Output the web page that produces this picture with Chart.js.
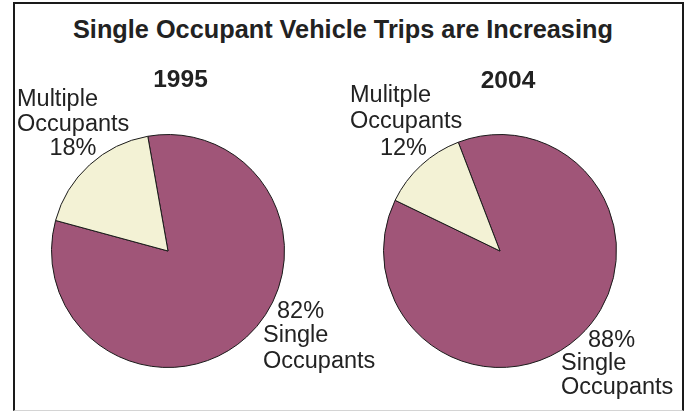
<!DOCTYPE html>
<html>
<head>
<meta charset="utf-8">
<script src="https://cdn.jsdelivr.net/npm/chart.js@4.4.0/dist/chart.umd.min.js"></script>
<style>
body { margin: 0; background: #fff; }
#wrap { position: relative; width: 691px; height: 412px; overflow: hidden; background: #fff; }
#frame { position: absolute; left: 13px; top: 2px; width: 667px; height: 406px;
  border: 2px solid #1a1a1a; border-bottom: 1px solid #d4d4d4; }
#title { position: absolute; left: 0; width: 691px; top: 17px; text-align: left; padding-left: 73px; box-sizing: border-box;
  font: bold 25.3px "Liberation Sans", Arial, sans-serif; line-height: 25.3px; color: #222; white-space: nowrap; }
canvas { position: absolute; top: 0; }
#pie1995 { left: 0; }
#pie2004 { left: 330px; }
</style>
</head>
<body>
<div id="wrap">
  <div id="frame"></div>
  <div id="title">Single Occupant Vehicle Trips are Increasing</div>
  <canvas id="pie1995" width="400" height="412"></canvas>
  <canvas id="pie2004" width="361" height="412"></canvas>
</div>
<script>
// donnees
const years = ['1995', '2004'];
const categories = ['Single Occupants', 'Multiple Occupants'];
const singleShare = [82, 88];
const multipleShare = [18, 12];
const multipleWord = ['Multiple', 'Mulitple']; // faute d'orthographe dans l'original

const purple = '#a05578';
const cream = '#f3f2d5';
const textColor = '#222';
const labelFont = '23.5px "Liberation Sans", Arial, sans-serif';
const yearFont = 'bold 24.5px "Liberation Sans", Arial, sans-serif';

// position des textes, en coordonnees de la page
const textSpots = [
  { year: [180.5, 87], multi: [17, 106, 131], multiPct: [73, 155], single: [277, 263, 318, 342, 368] },
  { year: [508, 88], multi: [350, 102, 128], multiPct: [403.5, 155], single: [588, 561, 347, 370, 394] }
];

const labelsPlugin = {
  id: 'pieLabels',
  afterDraw(chart) {
    const i = chart.options.plugins.pieLabels.index;
    const dx = chart.options.plugins.pieLabels.offsetX;
    const s = textSpots[i];
    const ctx = chart.ctx;
    ctx.save();
    ctx.fillStyle = textColor;
    ctx.textBaseline = 'alphabetic';

    ctx.font = yearFont;
    ctx.textAlign = 'center';
    ctx.fillText(years[i], s.year[0] - dx, s.year[1]);

    ctx.font = labelFont;
    ctx.textAlign = 'left';
    ctx.fillText(multipleWord[i], s.multi[0] - dx, s.multi[1]);
    ctx.fillText('Occupants', s.multi[0] - dx, s.multi[2]);
    ctx.textAlign = 'center';
    ctx.fillText(multipleShare[i] + '%', s.multiPct[0] - dx, s.multiPct[1]);

    ctx.textAlign = 'left';
    ctx.fillText(singleShare[i] + '%', s.single[0] - dx, s.single[2]);
    ctx.fillText('Single', s.single[1] - dx, s.single[3]);
    ctx.fillText('Occupants', s.single[1] - dx, s.single[4]);
    ctx.restore();
  }
};

function makePie(canvasId, i, offsetX, rotation, padding) {
  return new Chart(document.getElementById(canvasId), {
    type: 'pie',
    data: {
      labels: categories,
      datasets: [{
        data: [singleShare[i], multipleShare[i]],
        backgroundColor: [purple, cream],
        borderColor: '#1a1a1a',
        borderWidth: 1
      }]
    },
    options: {
      responsive: false,
      animation: false,
      devicePixelRatio: 1,
      rotation: rotation,
      layout: { padding: padding },
      events: [],
      plugins: {
        legend: { display: false },
        tooltip: { enabled: false },
        pieLabels: { index: i, offsetX: offsetX }
      }
    },
    plugins: [labelsPlugin]
  });
}

makePie('pie1995', 0, 0, -10, { left: 51, right: 115, top: 134, bottom: 44 });
makePie('pie2004', 1, 330, -21, { left: 53, right: 74, top: 134, bottom: 44 });
</script>
</body>
</html>
